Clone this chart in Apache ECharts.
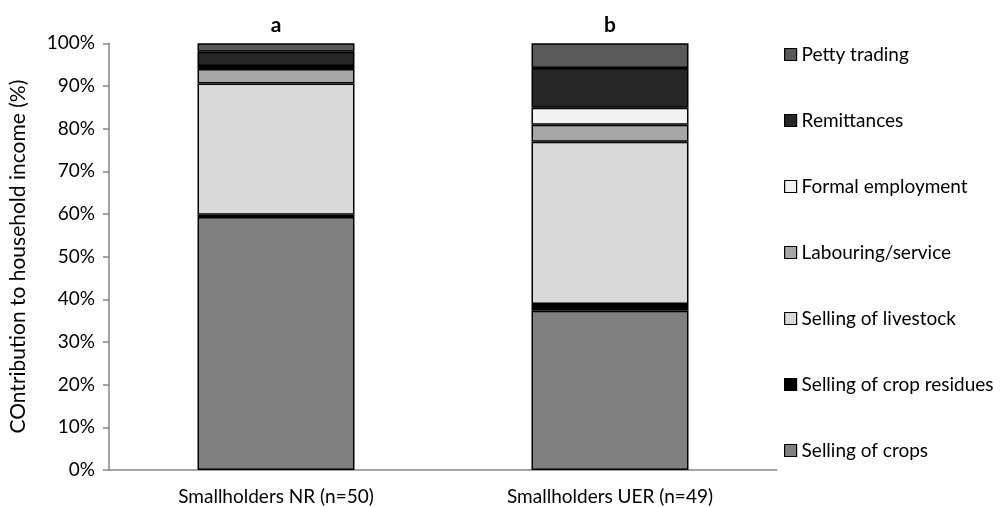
<!DOCTYPE html>
<html><head><meta charset="utf-8">
<script src="https://cdn.jsdelivr.net/npm/echarts@6/dist/echarts.min.js"></script>
<style>html,body{margin:0;padding:0;background:#fff}#c{width:1002px;height:507px}</style>
</head><body><div id="c"></div>
<script>
const categories = ['Smallholders NR (n=50)', 'Smallholders UER (n=49)'];
const barLetters = ['a', 'b'];
const sellingCrops = [59.3, 37.3];
const sellingCropResidues = [0.5, 1.6];
const sellingLivestock = [30.8, 38.0];
const labouringService = [3.4, 4.0];
const formalEmployment = [0.7, 4.0];
const remittances = [3.3, 9.3];
const pettyTrading = [2.0, 5.8];
const yTicks = [0, 10, 20, 30, 40, 50, 60, 70, 80, 90, 100];

const seriesDefs = [
  ['Selling of crops', sellingCrops, '#808080'],
  ['Selling of crop residues', sellingCropResidues, '#000000'],
  ['Selling of livestock', sellingLivestock, '#d9d9d9'],
  ['Labouring/service', labouringService, '#a6a6a6'],
  ['Formal employment', formalEmployment, '#f2f2f2'],
  ['Remittances', remittances, '#262626'],
  ['Petty trading', pettyTrading, '#595959']
];
const font = 'Lato, "Open Sans", sans-serif';
const series = seriesDefs.map((d, i) => ({
  name: d[0], type: 'bar', stack: 'all', data: d[1], barWidth: '47%',
  itemStyle: { color: d[2], borderColor: '#000', borderWidth: 1.5 },
  label: i === seriesDefs.length - 1 ? {
    show: true, position: 'top', distance: 8,
    formatter: p => barLetters[p.dataIndex],
    fontFamily: font, fontWeight: 'bold', fontSize: 21, color: '#000'
  } : { show: false }
}));
const chart = echarts.init(document.getElementById('c'), null, { renderer: 'canvas' });
chart.setOption({
  animation: false,
  grid: { left: 107, right: 225, top: 43.3, bottom: 37 },
  legend: {
    orient: 'vertical', left: 779, top: 40,
    data: seriesDefs.map(d => d[0]).reverse(),
    icon: 'rect',
    itemWidth: 12, itemHeight: 12, itemGap: 47,
    itemStyle: { borderColor: '#000', borderWidth: 1.2 },
    textStyle: { fontFamily: font, fontSize: 19, color: '#000' },
    selectedMode: false
  },
  xAxis: {
    type: 'category', data: categories,
    axisLine: { lineStyle: { color: '#868686', width: 1.5 } },
    axisTick: { show: false },
    axisLabel: { fontFamily: font, fontSize: 19, color: '#000', margin: 17 }
  },
  yAxis: {
    type: 'value', min: 0, max: 100, interval: 10,
    name: 'COntribution to household income (%)', nameLocation: 'middle', nameGap: 80,
    nameTextStyle: { fontFamily: font, fontSize: 21, color: '#000' },
    axisLine: { show: true, lineStyle: { color: '#868686', width: 1.5 } },
    axisTick: { show: true, length: 6, lineStyle: { color: '#868686', width: 1.5 } },
    splitLine: { show: false },
    axisLabel: { fontFamily: font, fontSize: 19, color: '#000', margin: 14,
      formatter: v => yTicks.includes(v) ? v + '%' : '' }
  },
  series: series
});
</script></body></html>
